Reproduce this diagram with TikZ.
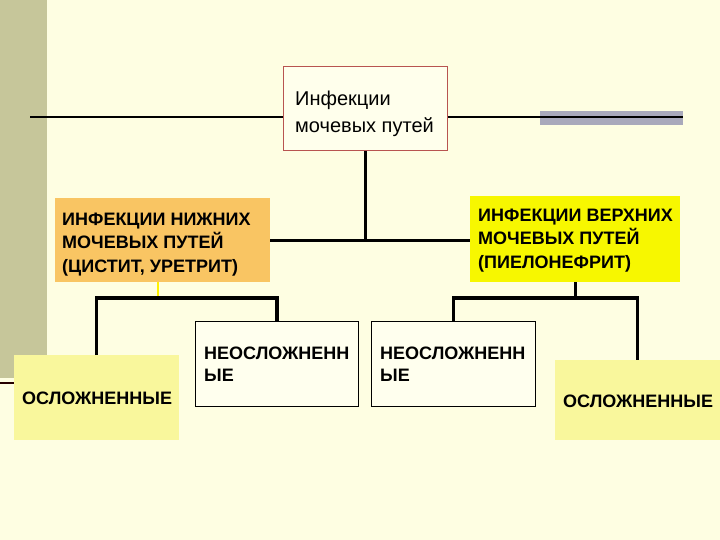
\documentclass[tikz,border=0pt]{standalone}
\usepackage{fontspec}
\setmainfont{Liberation Sans}
\definecolor{bgc}{HTML}{FEFEE2}
\definecolor{stripc}{HTML}{C6C69A}
\definecolor{barc}{HTML}{A9A9BB}
\definecolor{orangec}{HTML}{F9C563}
\definecolor{yellowc}{HTML}{F7F700}
\definecolor{lightyc}{HTML}{F9F79C}
\definecolor{topfill}{HTML}{FFFFEC}
\definecolor{topborder}{HTML}{B85450}
\definecolor{whitec}{HTML}{FFFFEE}
\newcommand\firstrule[1]{\rule{0pt}{#1}}
\begin{document}
\begin{tikzpicture}[x=1pt,y=-1pt,
  box/.style={rectangle, inner sep=0pt, anchor=north west},
  conn/.style={line width=3.2pt},
  txt/.style={anchor=north west, inner sep=0pt, align=left},
  bigcap/.style={font=\fontsize{18}{23.5}\selectfont\bfseries},
  midcap/.style={font=\fontsize{18}{22}\selectfont\bfseries}]
\useasboundingbox (0,0) rectangle (720,540);
\fill[bgc] (0,0) rectangle (720,540);
\fill[stripc] (0,0) rectangle (47,378);
% top line and grey bar
\fill[barc] (540,111) rectangle (683,125);
\node[box, draw=topborder, fill=topfill, line width=0.8pt, minimum width=164pt, minimum height=84pt] (top) at (283,66) {};
\node[txt, font=\fontsize{20}{27}\selectfont] (toptxt) at (295,84) {\firstrule{21pt}Инфекции\\мочевых путей};
\coordinate (lineL) at (30,117);
\coordinate (lineR) at (683,117);
\draw[line width=2.2pt] (lineL) -- (lineL -| top.west);
\draw[line width=2.2pt] (lineR -| top.east) -- (lineR);
% second level
\node[box, fill=orangec, minimum width=215pt, minimum height=84pt] (lower) at (55,198) {};
\node[txt, bigcap] (lowertxt) at (62,205) {\firstrule{20pt}ИНФЕКЦИИ НИЖНИХ\\МОЧЕВЫХ ПУТЕЙ\\(ЦИСТИТ, УРЕТРИТ)};
\node[box, fill=yellowc, minimum width=210pt, minimum height=86pt] (upper) at (470,196) {};
\node[txt, bigcap] (uppertxt) at (478,201) {\firstrule{20pt}ИНФЕКЦИИ ВЕРХНИХ\\МОЧЕВЫХ ПУТЕЙ\\(ПИЕЛОНЕФРИТ)};
\draw[conn] (top.south) -- (top.south |- lower.east);
\draw[conn] (lower.east) -- (lower.east -| upper.west);
% third level
\node[box, fill=lightyc, minimum width=165pt, minimum height=85pt] (oslL) at (14,355) {};
\node[txt, midcap] (oslLtxt) at (22,384) {\firstrule{20pt}ОСЛОЖНЕННЫЕ};
\node[box, draw=black, fill=whitec, line width=0.8pt, minimum width=163pt, minimum height=85pt] (neoL) at (195,321) {};
\node[txt, midcap] (neoLtxt) at (204,339) {\firstrule{20pt}НЕОСЛОЖНЕНН\\ЫЕ};
\node[box, draw=black, fill=whitec, line width=0.8pt, minimum width=164pt, minimum height=85pt] (neoR) at (371,321) {};
\node[txt, midcap] (neoRtxt) at (380,339) {\firstrule{20pt}НЕОСЛОЖНЕНН\\ЫЕ};
\node[box, fill=lightyc, minimum width=165pt, minimum height=80pt] (oslR) at (555,360) {};
\node[txt, midcap] (oslRtxt) at (563,387) {\firstrule{20pt}ОСЛОЖНЕННЫЕ};
% branch connectors
\coordinate (bar) at (0,298);
\coordinate (tick) at (158,296);
\draw[yellow, line width=1.5pt] (tick |- lower.south) -- (tick);
\draw[conn] (oslL.north) -- (oslL.north |- bar) -- (neoL.north |- bar) -- (neoL.north);
\draw[conn] (upper.south) -- (upper.south |- bar);
\draw[conn] (neoR.north) -- (neoR.north |- bar) -- (oslR.north |- bar) -- (oslR.north);
\coordinate (stub) at (0,383);
\draw[line width=2.5pt, black!85!red] (stub) -- (stub -| oslL.west);
\end{tikzpicture}
\end{document}
